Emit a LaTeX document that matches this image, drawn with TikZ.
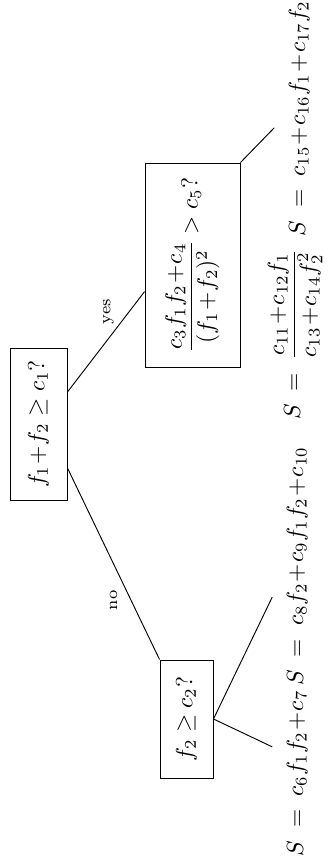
\documentclass[tikz,border=0pt]{standalone}
\usepackage{amsmath}

\begin{document}
\begin{tikzpicture}[
    x=0.015cm, y=-0.015cm,
    test/.style={rectangle, draw, inner sep=0pt, align=center, font={\medmuskip=1mu}},
    leaf/.style={inner xsep=0pt, inner ysep=6pt, anchor=base, font={\medmuskip=1mu}},
    branch/.style={font=\scriptsize}
]
\begin{scope}[rotate=90, transform shape]
\useasboundingbox (0,0) rectangle (857,331);

% 1. Tests
\node[test, minimum width=2.28cm, minimum height=0.855cm] (root) at (433,38.5) {$f_1+f_2 \geq c_1?$};
\node[test, minimum width=1.77cm, minimum height=0.795cm] (low) at (138,186.5) {$f_2 \geq c_2?$};
\node[test, minimum width=3.06cm, minimum height=1.425cm] (high) at (592,192.5) {$\dfrac{c_3f_1f_2+c_4}{(f_1+f_2)^2} > c_5?$};

% 2. Leaves
\node[leaf] (s1) at (83.5,303) {$S \;=\; c_6f_1f_2+c_7$};
\node[leaf] (s2) at (290.5,303) {$S \;=\; c_8f_2+c_9f_1f_2+c_{10}$};
\node[leaf] (s3) at (522.5,300) {$S \;=\; \dfrac{c_{11}+c_{12}f_1}{c_{13}+c_{14}f_2^2}$};
\node[leaf] (s4) at (738.5,305) {$S \;=\; c_{15}+c_{16}f_1+c_{17}f_2$};

% 3. Connections
\draw ([xshift=-0.66cm]root.south) -- node[branch, midway, xshift=-0.55cm] {no} (low.north east);
\draw ([xshift=0.48cm]root.south) -- node[branch, pos=0.6, xshift=0.3cm, yshift=0.08cm] {yes} ([xshift=-0.4cm]high.north);

\draw (low.south) -- ([xshift=0.4cm]s1.north);
\draw (low.south) -- ([xshift=-0.46cm]s2.north);
\draw (high.south east) -- ([xshift=-0.14cm]s4.north);

\end{scope}
\end{tikzpicture}
\end{document}
